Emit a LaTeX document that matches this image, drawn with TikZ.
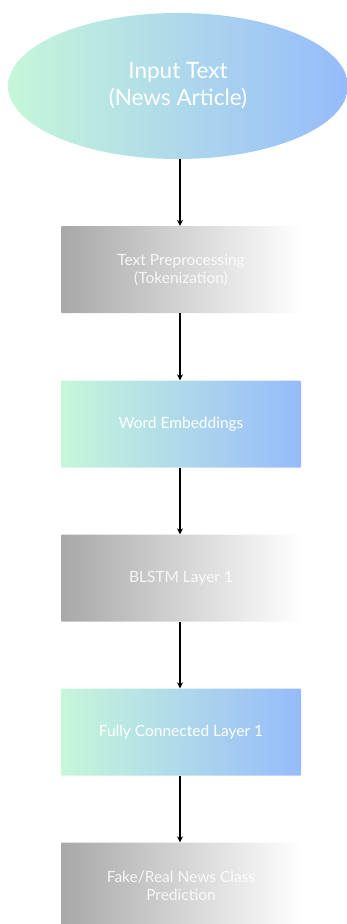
\documentclass[tikz,border=0pt]{standalone}
\usepackage{fontspec}
\setmainfont{Lato}
\usetikzlibrary{arrows.meta,shapes.geometric}
\definecolor{mint}{HTML}{C6F7DA}
\definecolor{sky}{HTML}{96BBFB}
\definecolor{slate}{HTML}{A8A8A8}
\tikzset{
  x=1pt,y=-1pt,
  stage/.style={rectangle, rounded corners=1pt, minimum width=240pt, minimum height=87pt,
    draw=none, text=white, font=\fontsize{15.5}{18}\selectfont, align=center},
  bluebox/.style={stage, left color=mint, right color=sky},
  greybox/.style={stage, left color=slate, right color=white, text opacity=0.85},
  flow/.style={-{Stealth[length=6pt,width=6pt]}, line width=1.2pt, black}
}
\begin{document}
\begin{tikzpicture}
\useasboundingbox (0,0) rectangle (346,924);
% input ellipse
\node[ellipse, minimum width=340pt, minimum height=146pt, left color=mint, right color=sky,
  text=white, font=\fontsize{22.5}{27}\selectfont, align=center, inner sep=0pt] (input) at (178,86)
  {Input Text\\(News Article)};
% processing stages
\node[greybox] (prep) at (181,269.5) {Text Preprocessing\\(Tokenization)};
\node[bluebox] (embed) at (181,424) {Word Embeddings};
\node[greybox] (blstm) at (181,578) {BLSTM Layer 1};
\node[bluebox] (fc) at (181,732) {Fully Connected Layer 1};
\node[greybox] (pred) at (181,886) {Fake/Real News Class\\Prediction};
% connectors
\draw[flow] (input.south -| 180,0) -- (prep.north -| 180,0);
\draw[flow] (prep.south -| 180,0) -- (embed.north -| 180,0);
\draw[flow] (embed.south -| 180,0) -- (blstm.north -| 180,0);
\draw[flow] (blstm.south -| 180,0) -- (fc.north -| 180,0);
\draw[flow] (fc.south -| 180,0) -- (pred.north -| 180,0);
\end{tikzpicture}
\end{document}
